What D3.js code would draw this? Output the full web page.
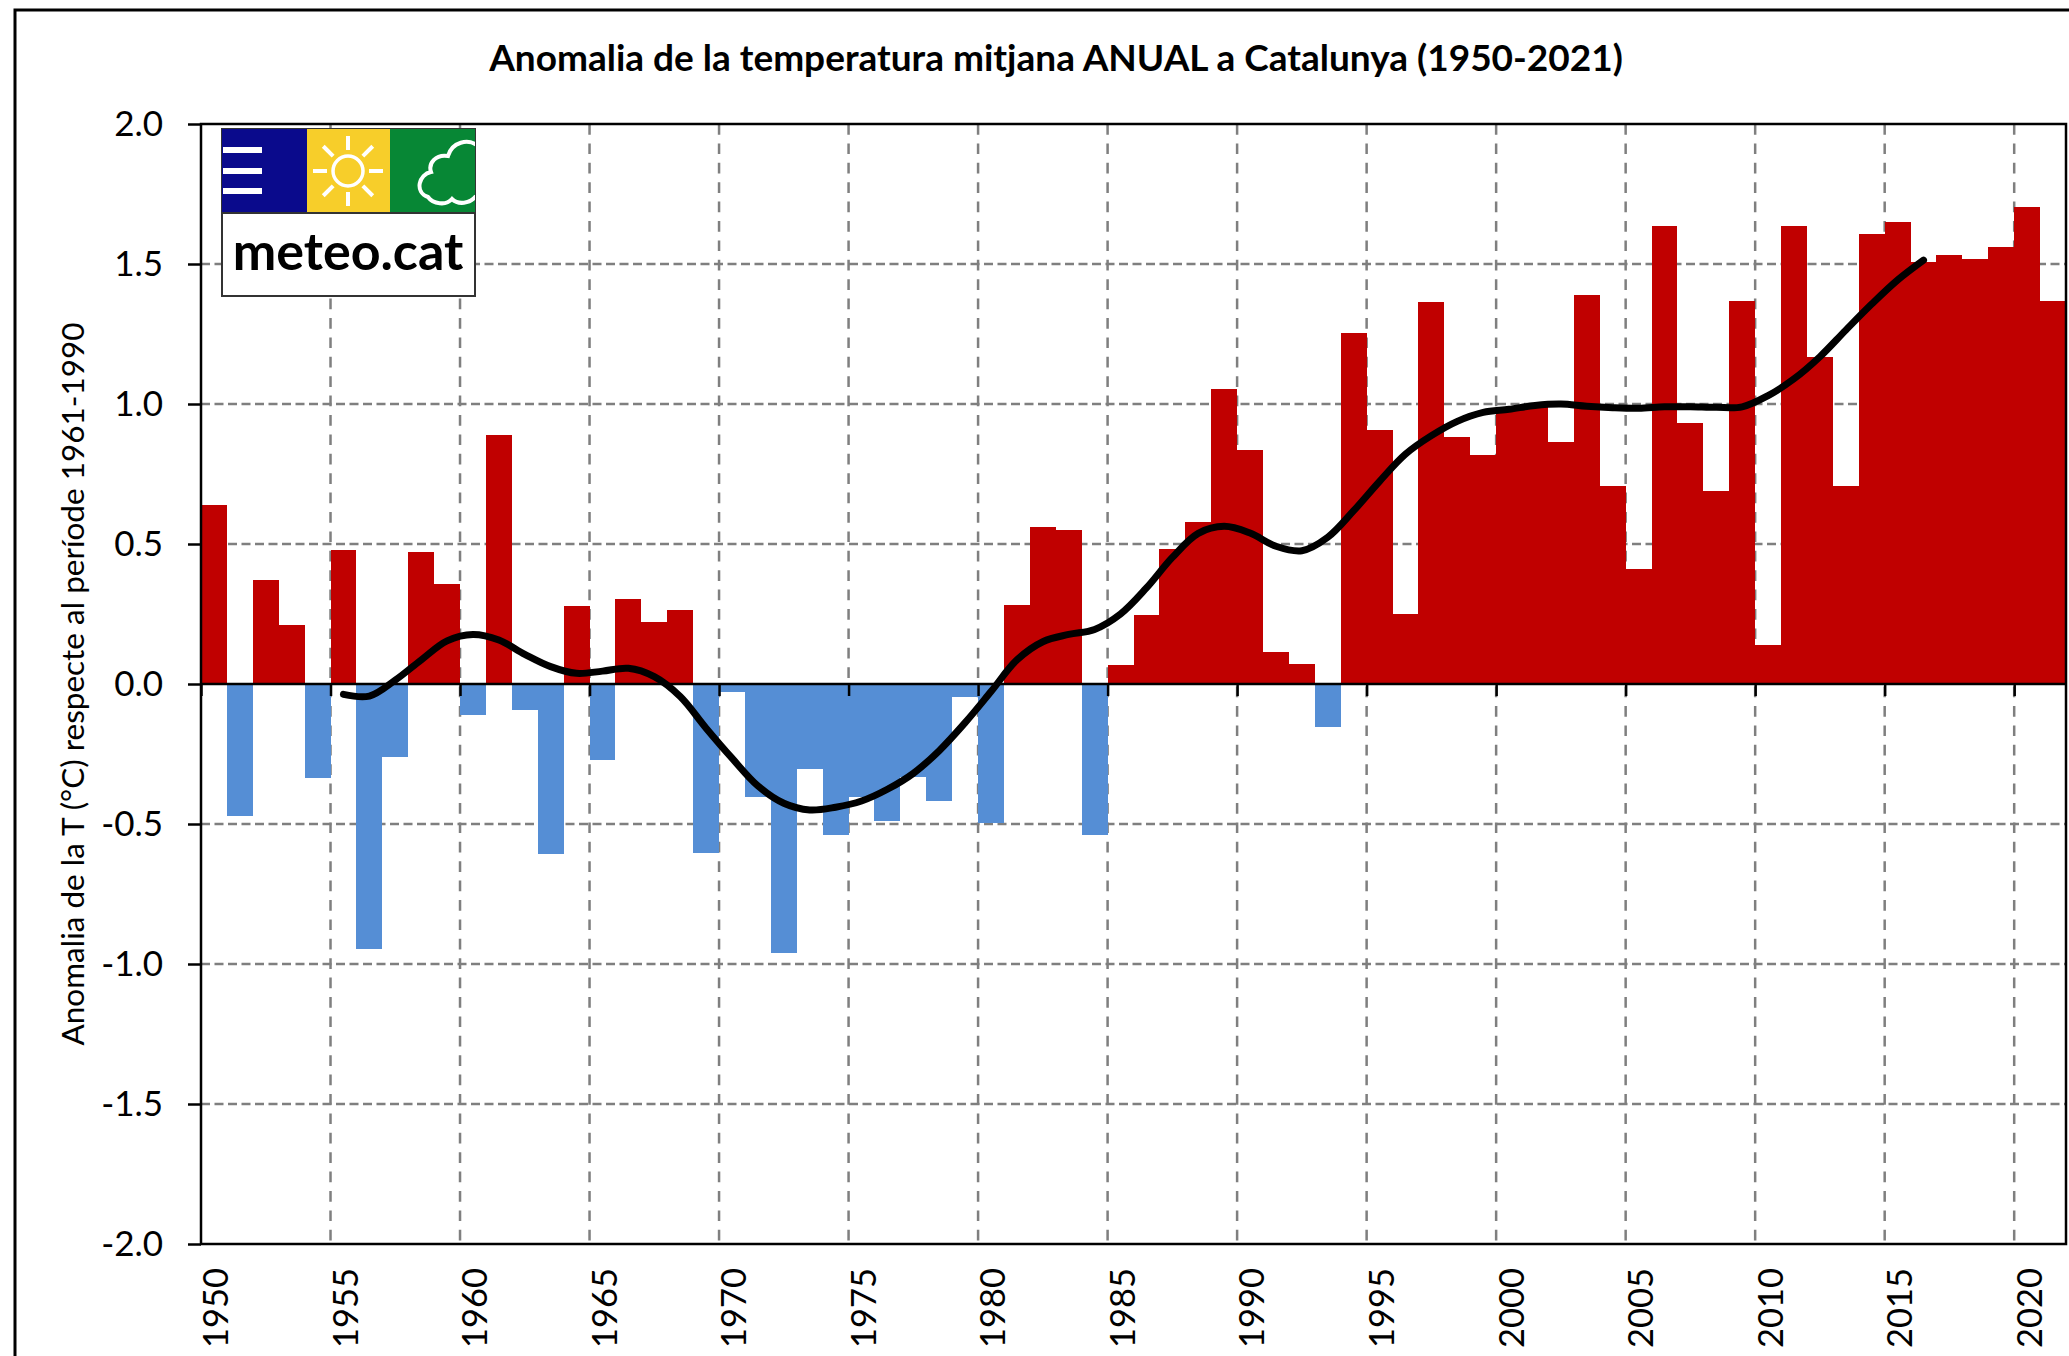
<!DOCTYPE html>
<html>
<head>
<meta charset="utf-8">
<script src="https://cdn.jsdelivr.net/npm/d3@7/dist/d3.min.js"></script>
<style>
  html, body { margin: 0; padding: 0; background: #fff; }
  svg { display: block; }
  text { font-family: Lato, "Open Sans", sans-serif; fill: #000; }
  .domain { display: none; }
</style>
</head>
<body>
<div id="chart"></div>
<script>
const titleText = 'Anomalia de la temperatura mitjana ANUAL a Catalunya (1950-2021)'
const yTitleText = 'Anomalia de la T (°C) respecte al període 1961-1990'

const years = d3.range(1950, 2022)
const anomalies = [
  0.64, -0.47, 0.37, 0.21, -0.337, 0.479, -0.945, -0.262, 0.473, 0.357,
  -0.111, 0.89, -0.092, -0.608, 0.279, -0.273, 0.302, 0.22, 0.263, -0.605,
  -0.03, -0.405, -0.96, -0.302, -0.54, -0.405, -0.488, -0.332, -0.419, -0.048,
  -0.498, 0.283, 0.56, 0.55, -0.54, 0.067, 0.246, 0.481, 0.579, 1.052,
  0.837, 0.114, 0.071, -0.155, 1.255, 0.906, 0.251, 1.365, 0.881, 0.818,
  0.99, 1.0, 0.864, 1.39, 0.708, 0.41, 1.634, 0.932, 0.689, 1.367,
  0.14, 1.634, 1.167, 0.708, 1.606, 1.65, 1.508, 1.532, 1.518, 1.562,
  1.702, 1.367
]

// smoothed curve, one value per year
const smoothYears = d3.range(1955, 2017)
const smoothValues = [
  -0.037, -0.043, 0.014, 0.086, 0.154, 0.177, 0.157, 0.106, 0.062, 0.038,
  0.046, 0.056, 0.026, -0.045, -0.158, -0.265, -0.364, -0.426, -0.45, -0.44,
  -0.418, -0.376, -0.319, -0.238, -0.138, -0.027, 0.086, 0.151, 0.177, 0.195,
  0.25, 0.343, 0.452, 0.538, 0.563, 0.539, 0.492, 0.476, 0.524, 0.619,
  0.724, 0.821, 0.887, 0.938, 0.97, 0.981, 0.995, 1.0, 0.992, 0.987,
  0.985, 0.99, 0.99, 0.988, 0.99, 1.03, 1.09, 1.169, 1.264, 1.357,
  1.443, 1.514
]

const yTicks = [-2, -1.5, -1, -0.5, 0, 0.5, 1, 1.5, 2]
const xTickYears = d3.range(1950, 2021, 5)

const width = 2069
const height = 1356
const margin = { top: 124, right: 3, bottom: 112, left: 201 }
const innerBottom = height - margin.bottom
const innerRight = width - margin.right

const svg = d3.select('#chart').append('svg')
  .attr('width', width)
  .attr('height', height)

const x = d3.scaleBand().domain(years).range([margin.left, innerRight]).padding(0)
const xEdge = d3.scaleLinear().domain([1950, 2022]).range([margin.left, innerRight])
const y = d3.scaleLinear().domain([-2, 2]).range([innerBottom, margin.top])

// outer frame, cut off by the picture on the right and at the bottom
svg.append('rect')
  .attr('x', 15).attr('y', 10)
  .attr('width', width).attr('height', height)
  .attr('fill', 'none').attr('stroke', '#000').attr('stroke-width', 3)

svg.append('text')
  .attr('x', 1056).attr('y', 71)
  .attr('text-anchor', 'middle')
  .attr('font-size', 37).attr('font-weight', 700)
  .text(titleText)

svg.append('text')
  .attr('transform', 'translate(84,684) rotate(-90)')
  .attr('text-anchor', 'middle')
  .attr('font-size', 31.5)
  .text(yTitleText)

// grid
svg.append('g').selectAll('line')
  .data(yTicks.filter(d => Math.abs(d) < 2 && d !== 0))
  .join('line')
  .attr('x1', margin.left).attr('x2', innerRight)
  .attr('y1', d => y(d)).attr('y2', d => y(d))
  .attr('stroke', '#7f7f7f').attr('stroke-width', 2.5)
  .attr('stroke-dasharray', '9 4.5')

svg.append('g').selectAll('line')
  .data(xTickYears.slice(1))
  .join('line')
  .attr('x1', d => xEdge(d)).attr('x2', d => xEdge(d))
  .attr('y1', margin.top).attr('y2', innerBottom)
  .attr('stroke', '#7f7f7f').attr('stroke-width', 2.5)
  .attr('stroke-dasharray', '10.7 8.7')

// bars
svg.append('g').attr('shape-rendering', 'crispEdges').selectAll('rect')
  .data(anomalies)
  .join('rect')
  .attr('x', (d, i) => x(years[i]))
  .attr('width', x.bandwidth())
  .attr('y', d => y(Math.max(d, 0)))
  .attr('height', d => Math.abs(y(d) - y(0)))
  .attr('fill', d => d >= 0 ? '#c00000' : '#558ed5')

// zero line with the year ticks hanging from it
const zeroAxis = svg.append('g')
  .attr('transform', `translate(0,${y(0)})`)
  .call(d3.axisBottom(xEdge).tickValues(xTickYears).tickSize(12).tickFormat(''))
zeroAxis.selectAll('line').attr('stroke', '#000').attr('stroke-width', 2.5)
svg.append('line')
  .attr('x1', margin.left).attr('x2', innerRight)
  .attr('y1', y(0)).attr('y2', y(0))
  .attr('stroke', '#000').attr('stroke-width', 2.5)

// plot border
svg.append('rect')
  .attr('x', margin.left).attr('y', margin.top)
  .attr('width', innerRight - margin.left).attr('height', innerBottom - margin.top)
  .attr('fill', 'none').attr('stroke', '#000').attr('stroke-width', 2.5)

// y axis, with a plain hyphen as in the original
const fmt = d3.format('.1f')
const yAxis = svg.append('g')
  .attr('transform', `translate(${margin.left},0)`)
  .call(d3.axisLeft(y).tickValues(yTicks).tickSize(13).tickPadding(25)
    .tickFormat(d => fmt(d).replace('−', '-')))
yAxis.selectAll('line').attr('stroke', '#000').attr('stroke-width', 2.5)
yAxis.selectAll('text').attr('font-size', 35).attr('fill', '#000').style('font-family', 'Lato')

// x labels at the bottom, centred on the year's bar
const xAxis = svg.append('g')
  .attr('transform', `translate(2,${innerBottom})`)
  .call(d3.axisBottom(x).tickValues(xTickYears).tickSize(0))
xAxis.selectAll('text')
  .attr('font-size', 34.5).attr('fill', '#000').style('font-family', 'Lato')
  .attr('text-anchor', 'end')
  .attr('transform', 'rotate(-90)')
  .attr('x', -24).attr('y', 0).attr('dy', '0.36em')

// smoothed line
const smoothLine = d3.line()
  .x((d, i) => x(smoothYears[i]) + x.bandwidth() / 2)
  .y(d => y(d))
  .curve(d3.curveCatmullRom)
svg.append('path')
  .datum(smoothValues)
  .attr('d', smoothLine)
  .attr('fill', 'none')
  .attr('stroke', '#000')
  .attr('stroke-width', 7)
  .attr('stroke-linecap', 'round')
  .attr('stroke-linejoin', 'round')

// meteo.cat logo
const logo = svg.append('g')
svg.append('clipPath').attr('id', 'logoClip').append('rect')
  .attr('x', 222).attr('y', 129).attr('width', 253).attr('height', 84)
logo.append('rect').attr('x', 222).attr('y', 129).attr('width', 253).attr('height', 167)
  .attr('fill', '#fff').attr('stroke', '#333').attr('stroke-width', 2)
logo.append('rect').attr('x', 222).attr('y', 129).attr('width', 85).attr('height', 84).attr('fill', '#0a0a8c')
logo.append('rect').attr('x', 307).attr('y', 129).attr('width', 83).attr('height', 84).attr('fill', '#f7ce2a')
logo.append('rect').attr('x', 390).attr('y', 129).attr('width', 85).attr('height', 84).attr('fill', '#078735')
logo.append('line').attr('x1', 222).attr('x2', 475).attr('y1', 213).attr('y2', 213)
  .attr('stroke', '#333').attr('stroke-width', 2)
logo.selectAll('.band').data([150, 171, 191]).join('rect')
  .attr('class', 'band')
  .attr('x', 223).attr('width', 39)
  .attr('y', d => d - 3).attr('height', 6).attr('fill', '#fff')
const sun = logo.append('g').attr('transform', 'translate(348,171)')
sun.append('circle').attr('r', 15).attr('fill', 'none').attr('stroke', '#fff').attr('stroke-width', 3.5)
sun.selectAll('line').data(d3.range(0, 360, 45)).join('line')
  .attr('x1', 0).attr('x2', 0).attr('y1', -21).attr('y2', -35)
  .attr('transform', d => `rotate(${d})`)
  .attr('stroke', '#fff').attr('stroke-width', 4)
logo.append('path')
  .attr('clip-path', 'url(#logoClip)')
  .attr('d', 'M 478 146 C 468 138 452 142 448 156 C 436 154 428 163 431 172 C 419 174 414 192 428 197 C 433 204 446 206 452 199 C 458 205 470 204 476 196')
  .attr('fill', 'none').attr('stroke', '#fff').attr('stroke-width', 4)
logo.append('text')
  .attr('x', 348).attr('y', 270)
  .attr('text-anchor', 'middle')
  .attr('font-size', 52).attr('font-weight', 700)
  .text('meteo.cat')
</script>
</body>
</html>
